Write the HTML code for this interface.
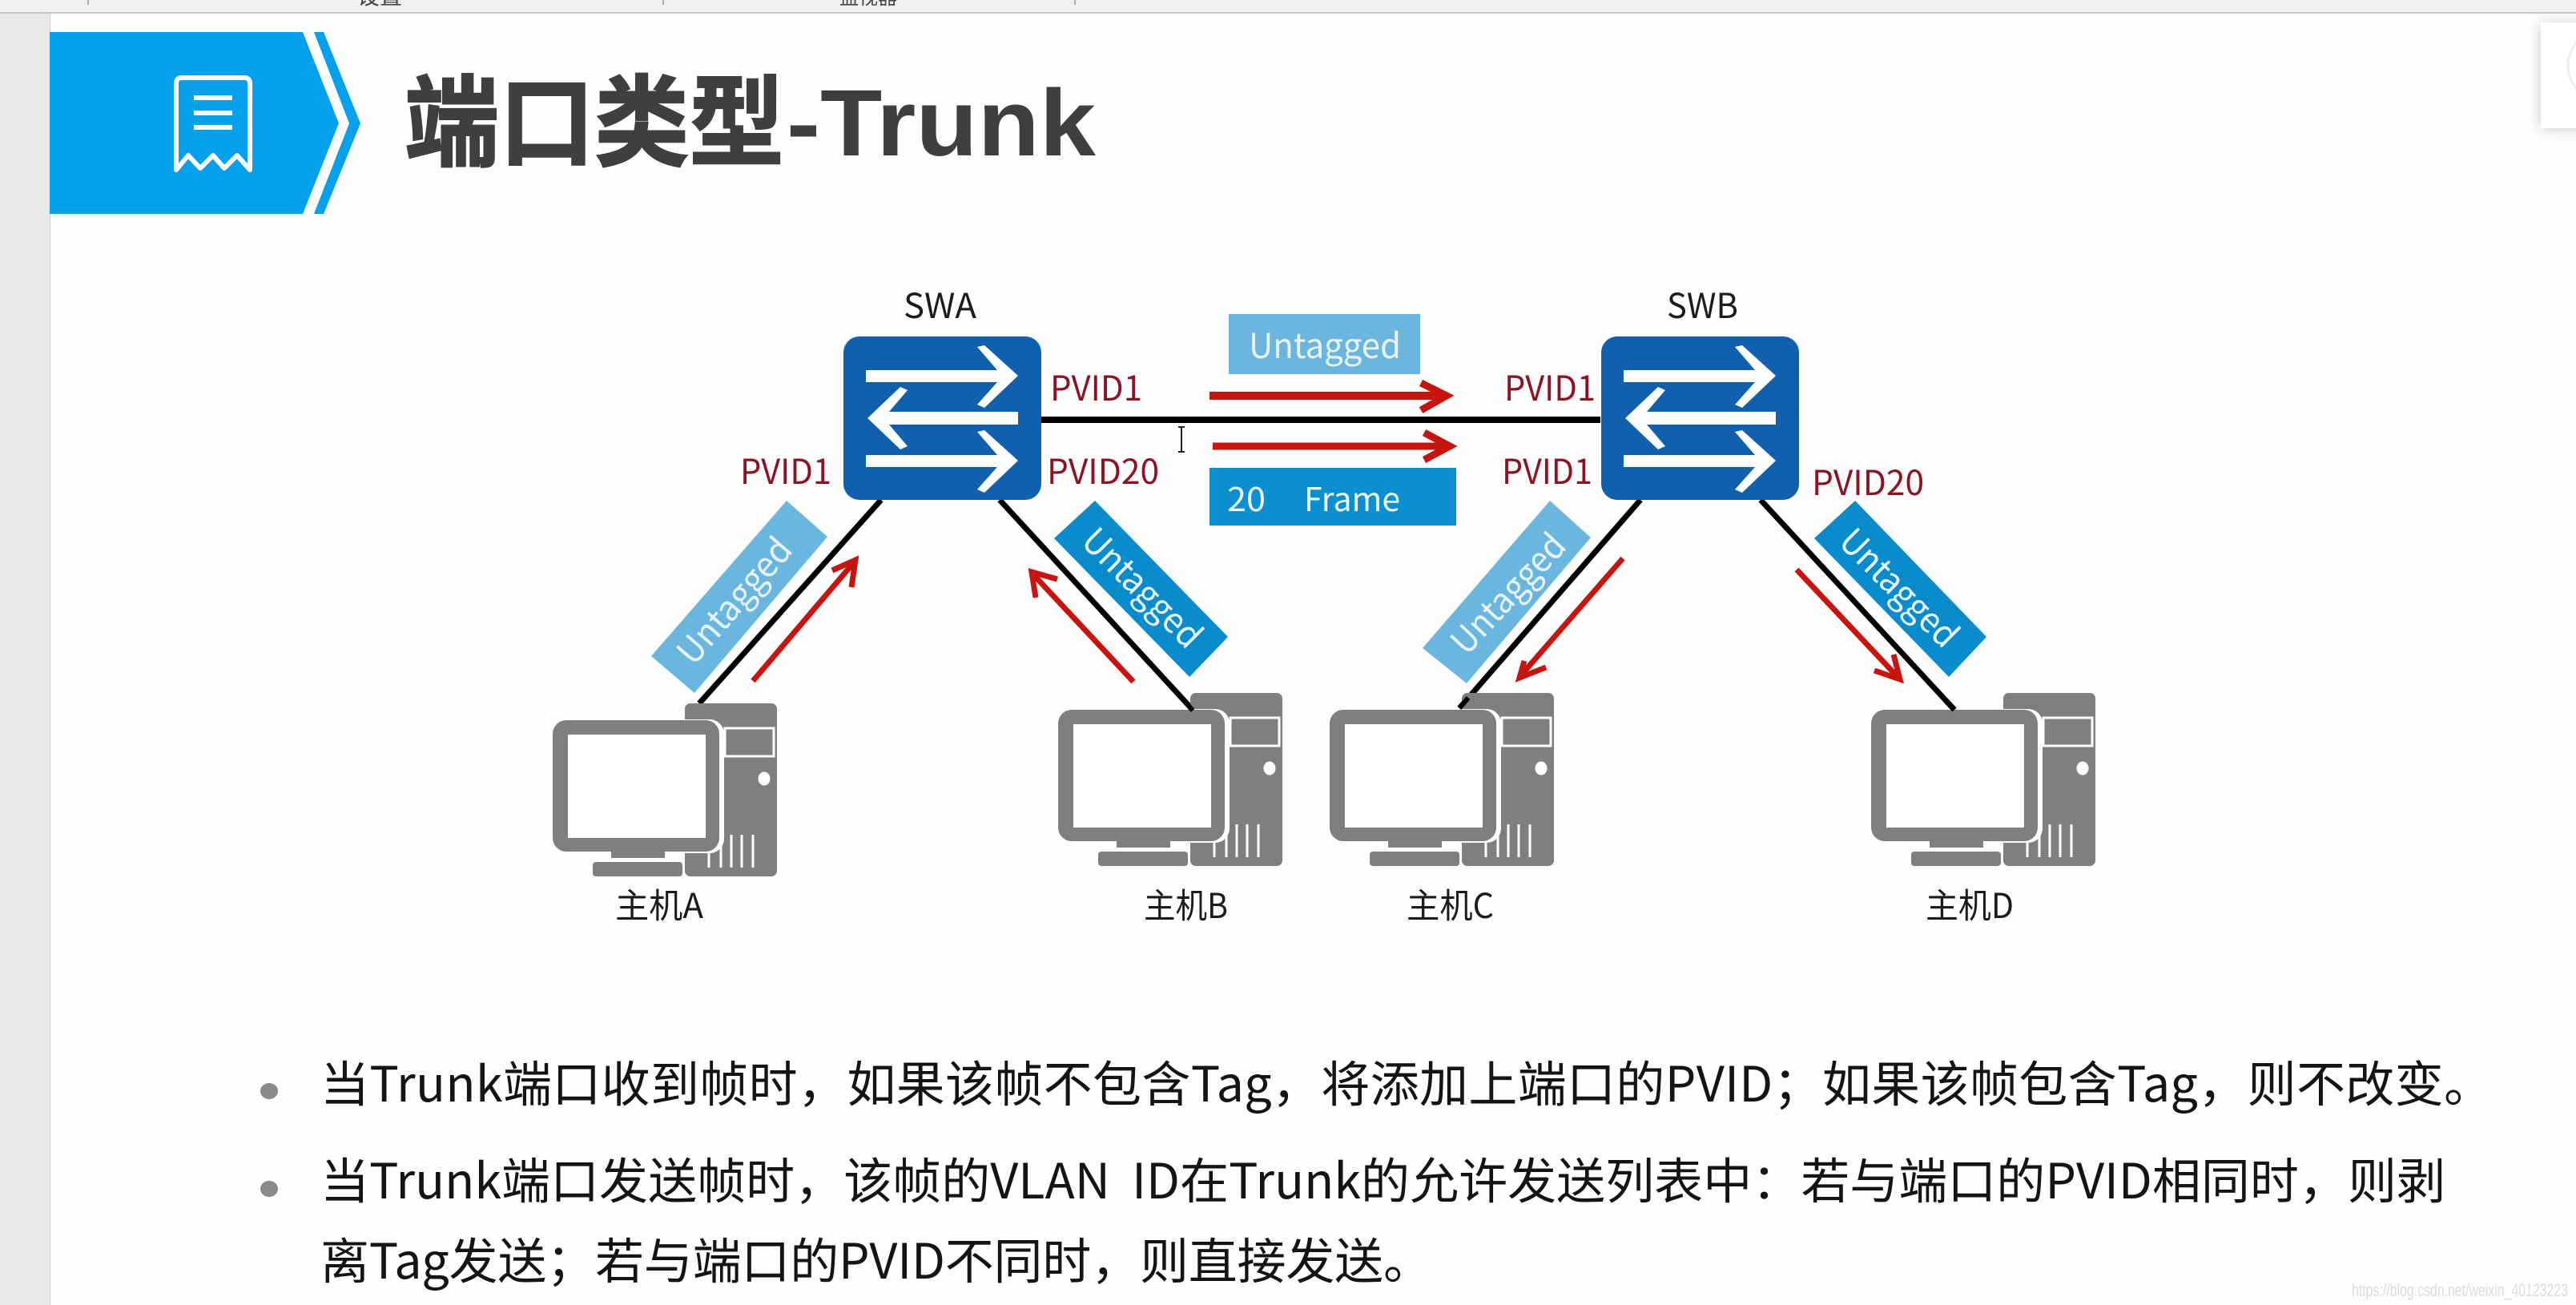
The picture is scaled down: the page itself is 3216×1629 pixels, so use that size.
<!DOCTYPE html>
<html lang="zh-CN">
<head>
<meta charset="utf-8">
<title>端口类型-Trunk</title>
<style>
html,body{margin:0;padding:0;background:#fefefe;width:3216px;height:1629px;overflow:hidden}
svg{display:block}
text{font-family:"Noto Sans CJK SC","Liberation Sans",sans-serif}
.body{font-size:61px;fill:#141414}
.pv{font-size:43px;fill:#8d1222}
.lb{font-size:43px;fill:#1c1c1c}
.tg{font-size:44px;fill:#e6f3fa;text-anchor:middle}
</style>
</head>
<body>
<svg xmlns="http://www.w3.org/2000/svg" width="3216" height="1629" viewBox="0 0 3216 1629">
<defs>
<filter id="sh" x="-40%" y="-40%" width="180%" height="180%"><feGaussianBlur stdDeviation="9"/></filter>
<g id="sw">
<rect x="1053" y="420" width="247" height="204" rx="20" fill="#1060ae"/>
<polygon fill="#fbfdff" points="1081,462 1245,462 1220,433 1229,431 1271,469 1229,509 1220,505 1245,477 1081,477"/>
<polygon fill="#fbfdff" points="1271,514 1110,514 1133,487 1124,483 1083,522 1124,561 1133,557 1110,530 1271,530"/>
<polygon fill="#fbfdff" points="1081,568 1245,568 1220,539 1229,537 1271,575 1229,615 1220,611 1245,583 1081,583"/>
</g>
<g id="pc">
<rect x="855" y="878" width="115" height="216" rx="7" fill="#7f7f80"/>
<rect x="905" y="909" width="61" height="35" fill="none" stroke="#fff" stroke-width="3"/>
<ellipse cx="954" cy="972" rx="7.5" ry="8.5" fill="#fff"/>
<g stroke="#fff" stroke-width="3"><path d="M885 1042V1083M900 1042V1083M913 1042V1083M926 1042V1083M940 1042V1083"/></g>
<rect x="688" y="898" width="216" height="167" rx="18" fill="#fff"/>
<rect x="688" y="899" width="208" height="164" rx="17" fill="#7f7f80" transform="translate(2,0)"/>
<rect x="709" y="917" width="172" height="129" fill="#fff"/>
<rect x="763" y="1063" width="67" height="8" fill="#7f7f80"/>
<rect x="740" y="1076" width="112" height="18" rx="4" fill="#7f7f80"/>
</g>
</defs>

<!-- window chrome -->
<rect x="0" y="0" width="3216" height="15" fill="#f0f0f0"/>
<rect x="0" y="15" width="3216" height="2" fill="#c9c9c9"/>
<rect x="0" y="17" width="62" height="1612" fill="#e9e9e9"/>
<rect x="62" y="17" width="1" height="1612" fill="#cfcfcf"/>
<path d="M110 0V6M828 0V6M1342 0V6" stroke="#9a9a9a" stroke-width="1.5"/>
<text x="446" y="5" font-size="28" fill="#444">设置</text>
<text x="1048" y="5" font-size="24" fill="#444">监视器</text>

<!-- header -->
<polygon points="62,40 378,40 423,154 378,267 62,267" fill="#05a0ec"/>
<polygon points="392,40 404,40 450,154 404,267 392,267 436,154" fill="#05a0ec"/>
<path d="M220 212V104Q220 97 227 97H305Q312 97 312 104V212L296 194L280 210L266 194L250 210L235 194Z" fill="none" stroke="#fff" stroke-width="6" stroke-linejoin="round"/>
<path d="M242 122H290M242 141H290M242 159H290" stroke="#fff" stroke-width="6"/>
<text x="505" y="197" font-size="124" font-weight="700" fill="#3f3f3f" stroke="#3f3f3f" stroke-width="2" textLength="474" lengthAdjust="spacingAndGlyphs">端口类型</text>
<text x="982" y="194" font-size="118" font-weight="700" fill="#3f3f3f" style="font-family:'Liberation Sans',sans-serif" textLength="386" lengthAdjust="spacingAndGlyphs">-Trunk</text>

<!-- right floating panel -->
<rect x="3172" y="30" width="60" height="130" fill="#000" opacity=".22" filter="url(#sh)"/>
<rect x="3172" y="28" width="44" height="132" fill="#fff"/>
<circle cx="3250" cy="82" r="44" fill="none" stroke="#eee" stroke-width="3"/>

<!-- connections -->
<g stroke="#000" fill="none">
<path d="M1299 524H1998" stroke-width="8"/>
<path d="M1100 624L873 878" stroke-width="7"/>
<path d="M1248 624L1489 886" stroke-width="7"/>
<path d="M2048 624L1822 884" stroke-width="7"/>
<path d="M2198 624L2440 886" stroke-width="7"/>
</g>

<!-- computers -->
<use href="#pc"/>
<use href="#pc" transform="translate(631,-13)"/>
<use href="#pc" transform="translate(970,-13)"/>
<use href="#pc" transform="translate(1646,-13)"/>
<path d="M1478 874L1489 887" stroke="#000" stroke-width="6"/>
<path d="M1833 871L1822 884" stroke="#000" stroke-width="6"/>
<path d="M2428 873L2440 886" stroke="#000" stroke-width="7"/>

<!-- switches -->
<use href="#sw"/>
<use href="#sw" transform="translate(946,0)"/>

<!-- banners -->
<polygon points="982,625 1033,670 867,865 813,819" fill="#6bb6de"/>
<polygon points="1367,625 1533,795 1485,845 1316,672" fill="#0a8bcb"/>
<polygon points="1935,625 1986,671 1831,853 1776,809" fill="#6bb6de"/>
<polygon points="2316,625 2480,795 2433,845 2265,672" fill="#0a8bcb"/>
<text class="tg" transform="translate(918,751) rotate(-49)" y="14" textLength="192" lengthAdjust="spacingAndGlyphs">Untagged</text>
<text class="tg" transform="translate(1425,735) rotate(45)" y="14" textLength="190" lengthAdjust="spacingAndGlyphs">Untagged</text>
<text class="tg" transform="translate(1884,742) rotate(-47)" y="14" textLength="186" lengthAdjust="spacingAndGlyphs">Untagged</text>
<text class="tg" transform="translate(2370,735) rotate(45)" y="14" textLength="188" lengthAdjust="spacingAndGlyphs">Untagged</text>

<!-- horizontal frame boxes -->
<rect x="1534" y="392" width="239" height="75" fill="#6bb6de"/>
<text x="1654" y="447" class="tg" style="font-size:43px" textLength="190" lengthAdjust="spacingAndGlyphs">Untagged</text>
<rect x="1510" y="584" width="308" height="72" fill="#0a8fd0"/>
<text x="1532" y="638" font-size="41" fill="#eef8fd" textLength="48" lengthAdjust="spacingAndGlyphs">20</text>
<text x="1628" y="638" font-size="41" fill="#eef8fd" textLength="120" lengthAdjust="spacingAndGlyphs">Frame</text>

<!-- red arrows -->
<g fill="none" stroke="#c8140f" stroke-linecap="butt">
<path d="M1510 494H1802" stroke-width="10"/>
<path d="M1774 478L1806 494L1774 512" stroke-width="9"/>
<path d="M1514 557H1806" stroke-width="9"/>
<path d="M1778 540L1810 557L1778 574" stroke-width="9"/>
<path d="M940 850L1066 702" stroke-width="7"/>
<path d="M1039 712L1068 699L1063 733" stroke-width="7"/>
<path d="M1415 851L1289 716" stroke-width="7"/>
<path d="M1320 723L1288 714L1293 746" stroke-width="7"/>
<path d="M2026 697L1898 844" stroke-width="7"/>
<path d="M1903 825L1897 846L1930 833" stroke-width="7"/>
<path d="M2243 711L2370 846" stroke-width="7"/>
<path d="M2340 837L2372 848L2364 817" stroke-width="7"/>
</g>

<!-- labels -->
<text class="lb" x="1128" y="397" textLength="91" lengthAdjust="spacingAndGlyphs">SWA</text>
<text class="lb" x="2081" y="397" textLength="89" lengthAdjust="spacingAndGlyphs">SWB</text>
<text class="pv" x="1311" y="500" textLength="115" lengthAdjust="spacingAndGlyphs">PVID1</text>
<text class="pv" x="1878" y="500" textLength="114" lengthAdjust="spacingAndGlyphs">PVID1</text>
<text class="pv" x="924" y="604" textLength="114" lengthAdjust="spacingAndGlyphs">PVID1</text>
<text class="pv" x="1307" y="604" textLength="140" lengthAdjust="spacingAndGlyphs">PVID20</text>
<text class="pv" x="1875" y="604" textLength="113" lengthAdjust="spacingAndGlyphs">PVID1</text>
<text class="pv" x="2262" y="618" textLength="140" lengthAdjust="spacingAndGlyphs">PVID20</text>

<text class="lb" x="768" y="1146" textLength="110" lengthAdjust="spacingAndGlyphs">主机A</text>
<text class="lb" x="1428" y="1146" textLength="105" lengthAdjust="spacingAndGlyphs">主机B</text>
<text class="lb" x="1756" y="1146" textLength="109" lengthAdjust="spacingAndGlyphs">主机C</text>
<text class="lb" x="2404" y="1146" textLength="110" lengthAdjust="spacingAndGlyphs">主机D</text>

<!-- I-beam cursor -->
<path d="M1471 533H1479M1475 533V564M1471 564H1479" stroke="#222" stroke-width="2" fill="none"/>

<!-- bullets -->
<ellipse cx="336" cy="1362" rx="11" ry="10" fill="#8a8a8a"/>
<ellipse cx="336" cy="1484" rx="11" ry="10" fill="#8a8a8a"/>
<text class="body" x="400" y="1375" textLength="2712" lengthAdjust="spacing">当Trunk端口收到帧时，如果该帧不包含Tag，将添加上端口的PVID；如果该帧包含Tag，则不改变。</text>
<text class="body" x="400" y="1496" textLength="2653" lengthAdjust="spacing" xml:space="preserve">当Trunk端口发送帧时，该帧的VLAN  ID在Trunk的允许发送列表中：若与端口的PVID相同时，则剥</text>
<text class="body" x="400" y="1596" textLength="1388" lengthAdjust="spacing">离Tag发送；若与端口的PVID不同时，则直接发送。</text>

<!-- watermark -->
<text x="2936" y="1618" font-size="22" fill="#dcdcdc" textLength="270" lengthAdjust="spacingAndGlyphs" style="font-family:'Liberation Sans',sans-serif">https://blog.csdn.net/weixin_40123223</text>
</svg>
</body>
</html>
